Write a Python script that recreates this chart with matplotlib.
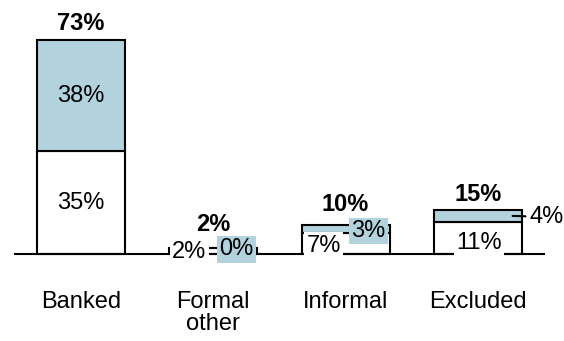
import matplotlib
matplotlib.use("Agg")
import matplotlib.pyplot as plt
import numpy as np

plt.rcParams["font.family"] = ["Liberation Sans", "DejaVu Sans"]

categories = ["Banked", "Formal\nother", "Informal", "Excluded"]
bottom_vals = [35, 2, 7, 11]
top_vals = [38, 0, 3, 4]
totals = [73, 2, 10, 15]

# label nudges in pixels (dx, dy) from the segment centre
BOTTOM_OFFSETS = [(0, 0), (-24, -1), (-22, -2), (1, -5)]
TOP_OFFSETS = [(0, 0), (23, -1), (23, -2), (None, None)]
TOTAL_OFFSETS = [5, 12, 9, 4]

BLUE = "#b2d3de"
FONTSIZE = 17
BAR_WIDTH = 0.665
LW = 1.5

fig = plt.figure(figsize=(5.64, 3.41), dpi=100)
ax = fig.add_axes([0, 0, 1, 1])
px_per_pct = 2.93
px_per_cat = 132.3
ax.set_xlim(-81 / px_per_cat, (564 - 81) / px_per_cat)
ax.set_ylim(-(341 - 254) / px_per_pct, 254 / px_per_pct)
ax.axis("off")

x = np.arange(len(categories))
ax.bar(x, bottom_vals, width=BAR_WIDTH, color="white", edgecolor="black", linewidth=LW, zorder=2)
ax.bar(x, top_vals, width=BAR_WIDTH, bottom=bottom_vals, color=BLUE, edgecolor="black", linewidth=LW, zorder=2)
ax.hlines(0, -0.507, 3.51, color="black", linewidth=LW, zorder=3)

for i in x:
    b, t = bottom_vals[i], top_vals[i]
    dx, dy = BOTTOM_OFFSETS[i]
    ax.annotate(f"{b}%", xy=(i, b / 2), xytext=(dx, dy), textcoords="offset pixels",
                ha="center", va="center", fontsize=FONTSIZE, zorder=4,
                bbox=dict(boxstyle="square,pad=0.1", fc="white", ec="none"))
    dx, dy = TOP_OFFSETS[i]
    if dx is None:
        # outside label with leader line
        ax.annotate(f"{t}%", xy=(i + BAR_WIDTH / 2 - 0.07, b + t / 2), xytext=(17, -1),
                    textcoords="offset pixels", ha="left", va="center", fontsize=FONTSIZE, zorder=4,
                    arrowprops=dict(arrowstyle="-", lw=LW, color="black", shrinkA=1, shrinkB=0))
    else:
        ax.annotate(f"{t}%", xy=(i, b + t / 2), xytext=(dx, dy), textcoords="offset pixels",
                    ha="center", va="center", fontsize=FONTSIZE, zorder=4,
                    bbox=dict(boxstyle="square,pad=0.1", fc=BLUE, ec="none"))
    ax.annotate(f"{totals[i]}%", xy=(i, b + t), xytext=(0, TOTAL_OFFSETS[i]), textcoords="offset pixels",
                ha="center", va="bottom", fontsize=FONTSIZE, fontweight="bold")
    ax.text(i, -37 / px_per_pct, categories[i], ha="center", va="top", fontsize=FONTSIZE,
            linespacing=1.0)

fig.savefig("out.png", dpi=100)
